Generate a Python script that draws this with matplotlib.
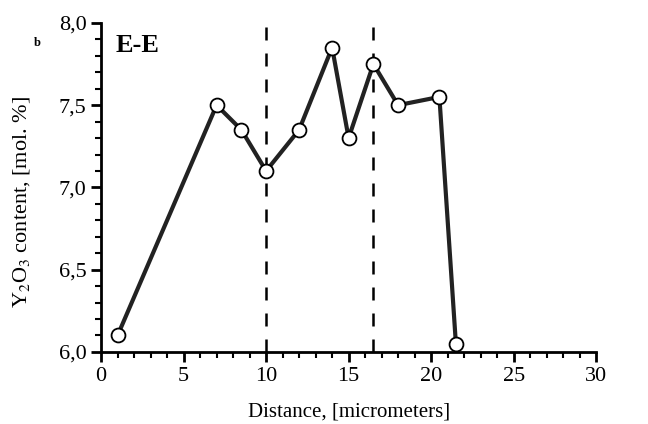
import matplotlib
matplotlib.use("Agg")
import matplotlib.pyplot as plt
from matplotlib.ticker import MultipleLocator, FuncFormatter

# Y2O3 profile along the E-E section
distance = [1, 7, 8.5, 10, 12, 14, 15, 16.5, 18, 20.5, 21.5]
y2o3 = [6.1, 7.5, 7.35, 7.1, 7.35, 7.85, 7.3, 7.75, 7.5, 7.55, 6.05]
boundaries = [10, 16.5]

plt.rcParams['font.family'] = ['Liberation Serif', 'DejaVu Serif']
plt.rcParams['mathtext.fontset'] = 'stix'

fig = plt.figure(figsize=(6.48, 4.24), dpi=100)
ax = fig.add_axes([0.156, 0.170, 0.764, 0.776])

for b in boundaries:
    ax.plot([b, b], [6.0, 8.0], color='black', lw=1.8, dashes=(5.2, 5.2), zorder=1)

ax.plot(distance, y2o3, color='#222222', lw=3, marker='o', ms=10,
        mfc='white', mec='black', mew=1.3, zorder=3, clip_on=False)

ax.set_xlim(0, 30)
ax.set_ylim(6.0, 8.0)
ax.xaxis.set_major_locator(MultipleLocator(5))
ax.xaxis.set_minor_locator(MultipleLocator(1))
ax.yaxis.set_major_locator(MultipleLocator(0.5))
ax.yaxis.set_minor_locator(MultipleLocator(0.1))
ax.yaxis.set_major_formatter(FuncFormatter(lambda v, p: f"{v:.1f}".replace('.', ',')))

for s in ['top', 'right']:
    ax.spines[s].set_visible(False)
for s in ['left', 'bottom']:
    ax.spines[s].set_linewidth(2)

ax.tick_params(which='major', direction='out', length=7, width=2, labelsize=16)
ax.tick_params(which='minor', direction='out', length=4, width=1.5)

ax.set_xlabel('Distance, [micrometers]', fontsize=15, labelpad=12)
ax.set_ylabel('Y$_2$O$_3$ content, [mol. %]', fontsize=16)
ax.yaxis.set_label_coords(-0.14, 0.456)

ax.text(0.9, 7.86, 'E-E', fontsize=19, fontweight='bold', va='center')
fig.text(0.057, 0.899, 'b', fontsize=9, fontweight='bold', ha='center', va='center')

fig.savefig('out.png', dpi=100)
